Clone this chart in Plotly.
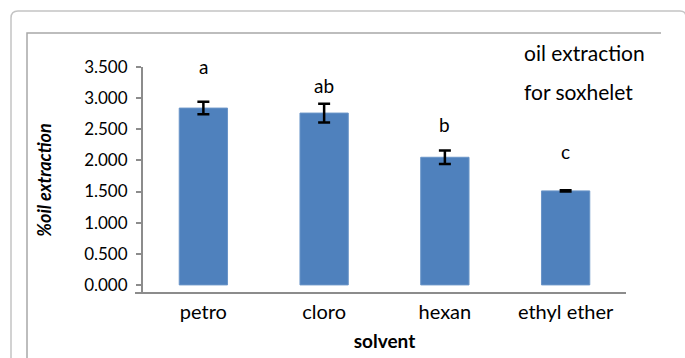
import plotly.graph_objects as go

categories = ["petro", "cloro", "hexan", "ethyl ether"]
values = [2.84, 2.76, 2.05, 1.51]
errors = [0.10, 0.15, 0.11, 0.01]
letters = ["a", "ab", "b", "c"]
tick_vals = [0, 0.5, 1.0, 1.5, 2.0, 2.5, 3.0, 3.5]
tick_text = ["0.000", "0.500", "1.000", "1.500", "2.000", "2.500", "3.000", "3.500"]

W, H = 685, 358
L, R, T, B = 143, 626, 67, 293
FONT = "Lato"

def px(x):
    return (x - L) / (R - L)

def py(y):
    return (B - y) / (B - T)

fig = go.Figure()
fig.add_trace(go.Bar(
    x=categories, y=values,
    marker=dict(color="#4f81bd", line=dict(color="#6a95c8", width=1)),
    width=0.4,
    error_y=dict(type="data", array=errors, visible=True, color="black",
                 thickness=2.5, width=6),
))

letter_shift = [22, 5, 12, 25]
annotations = []
for c, v, e, t, s in zip(categories, values, errors, letters, letter_shift):
    annotations.append(dict(x=c, y=v + e, text=t, showarrow=False,
                            yshift=s, yanchor="bottom",
                            font=dict(family=FONT, size=19, color="black")))

annotations.append(dict(xref="paper", yref="paper", x=px(522), y=py(53),
                        xanchor="left", yanchor="middle", showarrow=False,
                        text="oil extraction",
                        font=dict(family=FONT, size=21, color="black")))
annotations.append(dict(xref="paper", yref="paper", x=px(522), y=py(91),
                        xanchor="left", yanchor="middle", showarrow=False,
                        text="for soxhelet",
                        font=dict(family=FONT, size=21, color="black")))

shapes = [
    # outer rounded frame
    dict(type="path", xref="paper", yref="paper",
         path=(f"M {px(11)},{py(370)} L {px(11)},{py(18)} "
               f"Q {px(11)},{py(11)} {px(18)},{py(11)} "
               f"L {px(680)},{py(11)} Q {px(686)},{py(11)} {px(686)},{py(17)}"),
         line=dict(color="#c4c4c4", width=1.5)),
    # inner frame
    dict(type="path", xref="paper", yref="paper",
         path=f"M {px(27)},{py(370)} L {px(27)},{py(33)} L {px(661)},{py(33)}",
         line=dict(color="#a8a8a8", width=1.5)),
    # x axis line
    dict(type="line", xref="paper", yref="paper",
         x0=px(135), x1=px(626), y0=0, y1=0,
         line=dict(color="#8c8c8c", width=2)),
]

fig.update_layout(
    width=W, height=H,
    margin=dict(l=L, r=W - R, t=T, b=H - B, pad=0, autoexpand=False),
    paper_bgcolor="white", plot_bgcolor="white",
    showlegend=False,
    bargap=0.6,
    annotations=annotations,
    shapes=shapes,
    font=dict(family=FONT, color="black"),
    xaxis=dict(
        range=[-0.5, 3.5], showgrid=False, showline=False, ticks="",
        automargin=False, ticklabelstandoff=5,
        tickfont=dict(family=FONT, size=20, color="black"),
        title=dict(text="<b>solvent</b>", font=dict(family=FONT, size=19, color="black"),
                   standoff=12),
        zeroline=False,
    ),
    yaxis=dict(
        range=[-0.13, 3.5], showgrid=False, showline=True, linecolor="#8c8c8c",
        automargin=False,
        linewidth=2, ticks="outside", ticklen=5, tickcolor="#8c8c8c", tickwidth=2,
        tickvals=tick_vals, ticktext=tick_text, ticklabelstandoff=5,
        tickfont=dict(family=FONT, size=17, color="black"),
        title=dict(text="<b><i>%oil extraction</i></b>",
                   font=dict(family=FONT, size=18, color="black"), standoff=28),
        zeroline=False,
    ),
)

fig.write_html("out.html", config={"displayModeBar": False},
               post_script="document.body.style.margin='0';document.body.style.overflow='hidden';")
